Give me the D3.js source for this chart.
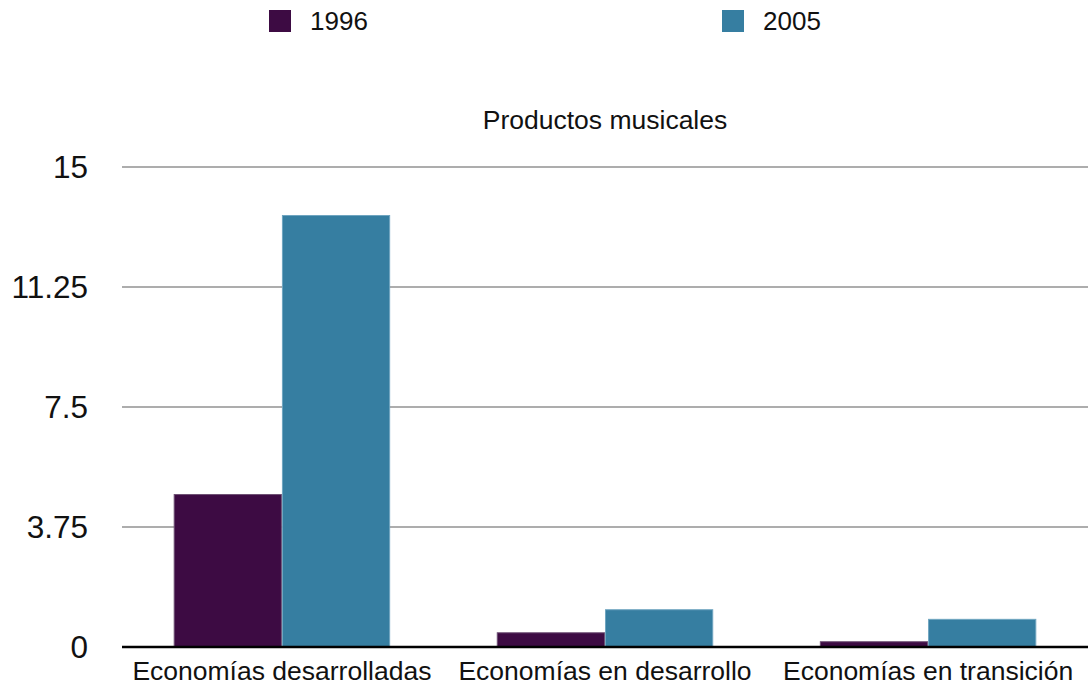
<!DOCTYPE html>
<html>
<head>
<meta charset="utf-8">
<script src="https://cdn.jsdelivr.net/npm/d3@7"></script>
<style>
  html, body { margin: 0; padding: 0; background: #fff; }
  svg { display: block; font-family: "Liberation Sans", Arial, Helvetica, sans-serif; }
</style>
</head>
<body>
<svg id="chart" width="1088" height="692"></svg>
<script>
const categories = ["Economías desarrolladas", "Economías en desarrollo", "Economías en transición"];
const seriesNames = ["1996", "2005"];
const values1996 = [4.78, 0.46, 0.18];
const values2005 = [13.5, 1.18, 0.88];
const yTicks = [0, 3.75, 7.5, 11.25, 15];
const yTickLabels = ["0", "3.75", "7.5", "11.25", "15"];
const chartTitle = "Productos musicales";
const colors = ["#3d0b43", "#367ea1"];
const strokeColors = ["#6d4f73", "#6fa5c0"];

(function () {
const data = categories.map((c, i) => ({ category: c, values: [values1996[i], values2005[i]] }));

const svg = d3.select("#chart");
const mLeft = 122, mRight = 1088, mTop = 167, mBottom = 647;

const x0 = d3.scaleBand().domain(categories).range([mLeft, mRight]).paddingInner(0.33).paddingOuter(0.16);
const x1 = d3.scaleBand().domain(seriesNames).range([0, x0.bandwidth()]).padding(0);
const y = d3.scaleLinear().domain([0, 15]).range([mBottom, mTop]);

// gridlines
svg.append("g").selectAll("line").data(yTicks.filter(t => t !== 0)).join("line")
  .attr("x1", mLeft).attr("x2", mRight)
  .attr("y1", d => y(d)).attr("y2", d => y(d))
  .attr("stroke", "#adadad").attr("stroke-width", 2.2);

// y axis labels
const yAxis = d3.axisLeft(y).tickValues(yTicks).tickFormat((d, i) => yTickLabels[i]).tickSize(0).tickPadding(0);
const yg = svg.append("g").attr("transform", `translate(88,0)`).call(yAxis);
yg.select(".domain").remove();
yg.selectAll("text").attr("font-size", 31.5).attr("fill", "#111").attr("font-family", "Liberation Sans, Arial, sans-serif");

// bars
const groups = svg.append("g").selectAll("g").data(data).join("g")
  .attr("transform", d => `translate(${x0(d.category)},0)`);
groups.selectAll("rect").data(d => d.values.map((v, i) => ({ key: seriesNames[i], value: v, i }))).join("rect")
  .attr("x", d => x1(d.key) + 0.5)
  .attr("width", x1.bandwidth() - 1)
  .attr("y", d => y(d.value) + 0.5)
  .attr("height", d => y(0) - y(d.value) - 0.5)
  .attr("fill", d => colors[d.i])
  .attr("stroke", d => strokeColors[d.i])
  .attr("stroke-width", 1);

// zero axis
svg.append("line").attr("x1", mLeft).attr("x2", mRight).attr("y1", y(0)).attr("y2", y(0))
  .attr("stroke", "#000").attr("stroke-width", 2.5);

// x axis labels
const xAxis = d3.axisBottom(x0).tickSize(0).tickPadding(0);
const xg = svg.append("g").attr("transform", `translate(0,${y(0)})`).call(xAxis);
xg.select(".domain").remove();
xg.selectAll("text").attr("dy", null).attr("y", 33).attr("font-size", 26.5).attr("fill", "#111")
  .attr("font-family", "Liberation Sans, Arial, sans-serif");

// title
svg.append("text").attr("x", (mLeft + mRight) / 2).attr("y", 129).attr("text-anchor", "middle")
  .attr("font-size", 26.5).attr("fill", "#111").text(chartTitle);

// legend
const legendX = [269, 722];
const lg = svg.append("g").selectAll("g").data(seriesNames).join("g")
  .attr("transform", (d, i) => `translate(${legendX[i]},10)`);
lg.append("rect").attr("width", 22).attr("height", 22).attr("fill", (d, i) => colors[i]);
lg.append("text").attr("x", 41).attr("y", 20).attr("font-size", 26).attr("fill", "#111").text(d => d);
})();
</script>
</body>
</html>
